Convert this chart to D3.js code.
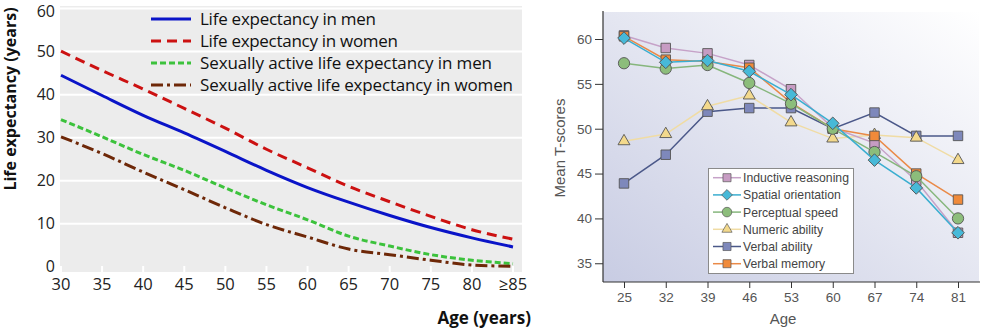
<!DOCTYPE html>
<html><head><meta charset="utf-8">
<script src="https://cdn.jsdelivr.net/npm/d3@7"></script>
<style>body{margin:0;background:#fff}svg{display:block}</style>
</head><body><svg id="c" width="999" height="331"></svg>
<script>
// ---------- Left panel data ----------
const ageL = [30,35,40,45,50,55,60,65,70,75,80,85];
const ageLLabels = ["30","35","40","45","50","55","60","65","70","75","80","≥85"];
const lifeMen   = [44.5,39.8,35.2,31.1,26.8,22.4,18.4,15.0,11.9,9.1,6.7,4.6];
const lifeWomen = [50.1,45.6,41.3,36.8,32.2,27.3,23.0,18.7,15.1,11.7,8.6,6.4];
const sexMen    = [34.2,30.2,26.1,22.4,18.3,14.4,10.9,7.1,4.8,2.8,1.5,0.7];
const sexWomen  = [30.2,26.3,22.0,17.9,13.7,9.8,6.9,4.1,2.8,1.5,0.4,0.1];
const leftNames = ["Life expectancy in men","Life expectancy in women","Sexually active life expectancy in men","Sexually active life expectancy in women"];
const leftTicksY = [0,10,20,30,40,50,60];

// ---------- Right panel data ----------
const ageR = [25,32,39,46,53,60,67,74,81];
const inductive  = [60.4,59.0,58.4,57.1,54.4,50.1,48.4,44.2,38.4];
const spatial    = [60.1,57.4,57.6,56.4,53.8,50.6,46.5,43.4,38.4];
const perceptual = [57.3,56.7,57.1,55.1,52.8,50.0,47.4,44.7,40.0];
const numeric    = [48.6,49.4,52.5,53.7,50.7,48.9,49.3,49.0,46.5];
const verbalAb   = [43.9,47.1,51.9,52.3,52.3,50.0,51.8,49.2,49.2];
const verbalMem  = [60.3,57.7,57.5,56.8,52.9,50.0,49.2,45.0,42.1];
const rightNames = ["Inductive reasoning","Spatial orientation","Perceptual speed","Numeric ability","Verbal ability","Verbal memory"];
const rightTicksY = [35,40,45,50,55,60];

const svg = d3.select("#c");

// ================= LEFT PANEL =================
(function(){
  const x = d3.scaleLinear().domain([30,85]).range([61,513]);
  const y = d3.scaleLinear().domain([0,60]).range([266.7,8.6]);
  const g = svg.append("g");
  const font = "'Open Sans', 'DejaVu Sans', sans-serif";
  g.append("rect").attr("x",60).attr("y",6).attr("width",462).attr("height",266).attr("fill","#ececec");
  g.selectAll("line.grid").data(leftTicksY.filter(d=>d>0)).enter().append("line")
    .attr("x1",60).attr("x2",522).attr("y1",d=>y(d)).attr("y2",d=>y(d))
    .attr("stroke","#fff").attr("stroke-width",2);
  g.selectAll("line.xt").data(ageL).enter().append("line")
    .attr("x1",d=>x(d)).attr("x2",d=>x(d)).attr("y1",266).attr("y2",272)
    .attr("stroke","#fff").attr("stroke-width",2);
  g.selectAll("text.yl").data(leftTicksY).enter().append("text")
    .attr("x",55).attr("y",d=>y(d)+(d===60?3:0)).attr("dy","0.33em").attr("text-anchor","end")
    .attr("font-family",font).attr("font-size",16).attr("fill","#222").text(d=>d);
  g.selectAll("text.xl").data(ageL).enter().append("text")
    .attr("x",d=>x(d)).attr("y",284).attr("dy","0.35em").attr("text-anchor","middle")
    .attr("font-family",font).attr("font-size",16.5).attr("fill","#222").text((d,i)=>ageLLabels[i]);
  g.append("text").attr("transform","translate(16,99) rotate(-90)").attr("text-anchor","middle")
    .attr("font-family",font).attr("font-weight","bold").attr("font-size",16).attr("fill","#111")
    .text("Life expectancy (years)");
  g.append("text").attr("x",531).attr("y",324).attr("text-anchor","end")
    .attr("font-family",font).attr("font-weight","bold").attr("font-size",17).attr("fill","#111")
    .text("Age (years)");

  const series = [
    {v:lifeMen, c:"#0a14c8", d:null},
    {v:lifeWomen, c:"#cc1111", d:"10,6"},
    {v:sexMen, c:"#3cc23c", d:"6,3"},
    {v:sexWomen, c:"#6e2808", d:"12,4,3,4"}
  ];
  const line = d3.line().x((d,i)=>x(ageL[i])).y(d=>y(d)).curve(d3.curveMonotoneX);
  series.forEach(s=>{
    g.append("path").attr("d",line(s.v)).attr("fill","none").attr("stroke",s.c)
      .attr("stroke-width",3).attr("stroke-dasharray",s.d);
  });
  const ly = [19,41,63,85];
  const lw = [176,198,292,313];
  series.forEach((s,i)=>{
    g.append("line").attr("x1",151).attr("x2",191).attr("y1",ly[i]).attr("y2",ly[i])
      .attr("stroke",s.c).attr("stroke-width",3).attr("stroke-dasharray",s.d);
    g.append("text").attr("x",200).attr("y",ly[i]).attr("dy","0.35em")
      .attr("font-family",font).attr("font-size",17).attr("fill","#111")
      .attr("textLength",lw[i]).attr("lengthAdjust","spacing").text(leftNames[i]);
  });
})();

// ================= RIGHT PANEL =================
(function(){
  const x = d3.scaleLinear().domain([25,81]).range([624,958]);
  const y = d3.scaleLinear().domain([33,63]).range([281.2,12.1]);
  const g = svg.append("g");
  const font = "'Liberation Sans', Arial, sans-serif";
  const defs = svg.append("defs");
  const gr = defs.append("linearGradient").attr("id","bg").attr("x1",0).attr("y1",1).attr("x2",1).attr("y2",0);
  gr.append("stop").attr("offset",0).attr("stop-color","#c8cce3");
  gr.append("stop").attr("offset",0.5).attr("stop-color","#e4e6f1");
  gr.append("stop").attr("offset",1).attr("stop-color","#ffffff");
  g.append("rect").attr("x",603).attr("y",12).attr("width",376).attr("height",270).attr("fill","url(#bg)");

  const ya = d3.axisLeft(y).tickValues(rightTicksY).tickSize(8).tickPadding(3);
  const yg = g.append("g").attr("transform","translate(603,0)").call(ya);
  yg.select(".domain").remove();
  g.append("line").attr("x1",603).attr("x2",603).attr("y1",11).attr("y2",282).attr("stroke","#333").attr("stroke-width",1.2);
  const xa = d3.axisBottom(x).tickValues(ageR).tickSize(6).tickPadding(4).tickFormat(d3.format("d"));
  const xg = g.append("g").attr("transform","translate(0,282)").call(xa);
  xg.select(".domain").remove();
  g.append("line").attr("x1",603).attr("x2",980).attr("y1",282).attr("y2",282).attr("stroke","#333").attr("stroke-width",1.2);
  [yg,xg].forEach(a=>{
    a.selectAll("line").attr("stroke","#333");
    a.selectAll("text").attr("font-family",font).attr("font-size",13.5).attr("fill","#555");
  });
  g.append("text").attr("transform","translate(565,148) rotate(-90)").attr("text-anchor","middle")
    .attr("font-family",font).attr("font-size",15).attr("fill","#555").text("Mean T-scores");
  g.append("text").attr("x",783).attr("y",319).attr("dy","0.35em").attr("text-anchor","middle")
    .attr("font-family",font).attr("font-size",15).attr("fill","#555").text("Age");

  const defsR = {
    "Inductive reasoning": {v:inductive, line:"#c6a2c8", fill:"#c79cc3", sym:"square"},
    "Spatial orientation": {v:spatial, line:"#3aaed0", fill:"#47b9d8", sym:"diamond"},
    "Perceptual speed": {v:perceptual, line:"#86b67c", fill:"#8cbd7b", sym:"circle"},
    "Numeric ability": {v:numeric, line:"#f0dca4", fill:"#f3d98c", sym:"triangle"},
    "Verbal ability": {v:verbalAb, line:"#4b5889", fill:"#7e88bb", sym:"square"},
    "Verbal memory": {v:verbalMem, line:"#ea8a48", fill:"#f08a3a", sym:"square"}
  };
  function marker(sel, sym){
    if(sym==="square") return sel.append("path").attr("d",d3.symbol(d3.symbolSquare,90)());
    if(sym==="diamond") return sel.append("path").attr("d",d3.symbol(d3.symbolSquare,80)()).attr("transform","rotate(45)");
    if(sym==="circle") return sel.append("path").attr("d",d3.symbol(d3.symbolCircle,100)());
    if(sym==="triangle") return sel.append("path").attr("d",d3.symbol(d3.symbolTriangle,62)());
  }
  const order = ["Verbal ability","Numeric ability","Inductive reasoning","Verbal memory","Perceptual speed","Spatial orientation"];
  const line = d3.line().x((d,i)=>x(ageR[i])).y(d=>y(d));
  order.forEach(n=>{
    const s = defsR[n];
    g.append("path").attr("d",line(s.v)).attr("fill","none").attr("stroke",s.line).attr("stroke-width",1.5);
    s.v.forEach((v,i)=>{
      const m = g.append("g").attr("transform",`translate(${x(ageR[i])},${y(v)})`);
      marker(m,s.sym).attr("fill",s.fill).attr("stroke","#555").attr("stroke-width",0.9);
    });
  });

  g.append("rect").attr("x",708.5).attr("y",168.5).attr("width",145).attr("height",105)
    .attr("fill","#fff").attr("stroke","#8a8a8a").attr("stroke-width",1);
  const texts = [];
  rightNames.forEach((n,i)=>{
    const s = defsR[n]; const yy = 177.7 + i*17.2;
    g.append("line").attr("x1",713).attr("x2",741).attr("y1",yy).attr("y2",yy).attr("stroke",s.line).attr("stroke-width",1.5);
    const m = g.append("g").attr("transform",`translate(727,${yy})`);
    marker(m,s.sym).attr("fill",s.fill).attr("stroke","#555").attr("stroke-width",0.8).attr("transform", s.sym==="diamond"?"rotate(45) scale(0.85)":"scale(0.85)");
    texts.push(g.append("text").attr("x",743).attr("y",yy).attr("dy","0.36em")
      .attr("font-family",font).attr("font-size",13.5).attr("fill","#444").text(n));
  });
  const w0 = texts[0].node().getComputedTextLength();
  const fs = Math.min(13.5, 13.5 * 106 / w0);
  texts.forEach(t=>t.attr("font-size",fs));
})();
</script></body></html>
